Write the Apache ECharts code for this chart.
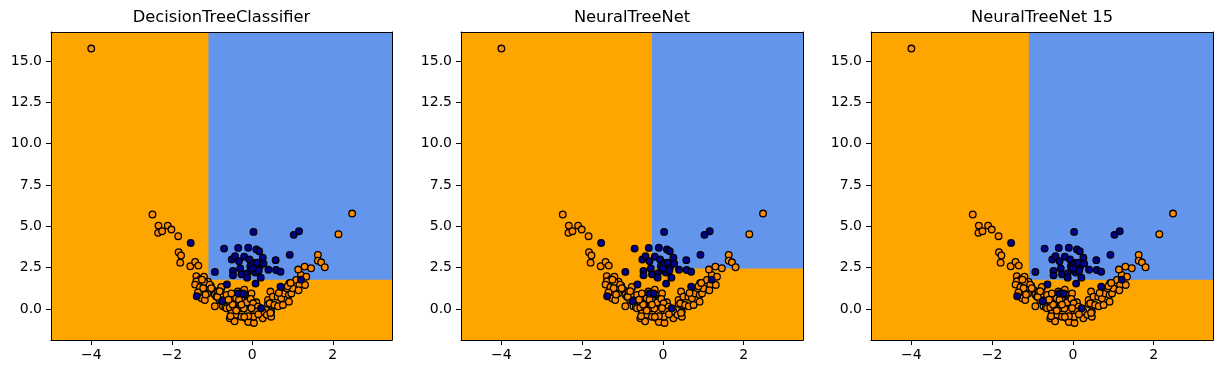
<!DOCTYPE html>
<html><head><meta charset="utf-8">
<script src="https://cdn.jsdelivr.net/npm/echarts@6/dist/echarts.min.js"></script>
<style>html,body{margin:0;padding:0;background:#fff}#c{width:1222px;height:374px}</style>
</head><body><div id="c"></div>
<script>
const titles = ['DecisionTreeClassifier', 'NeuralTreeNet', 'NeuralTreeNet 15'];
const xRange = [-5.0, 3.47];
const yRange = [-1.88, 16.75];
const xTicks = [-4, -2, 0, 2];
const yTicks = [0, 2.5, 5, 7.5, 10, 12.5, 15];
// lower-left corner of the blue (class 1) region in each panel
const regionX = [-1.09, -0.27, -1.09];
const regionY = [1.77, 2.45, 1.77];

const class0X = [-4.00,-2.48,-2.33,-2.34,-2.24,-2.10,-2.01,-1.84,-1.83,-1.77,-1.79,-1.54,-1.42,-1.34,-1.39,-1.28,-1.20,-1.10,-1.39,-1.42,-1.19,-1.30,-1.03,-1.22,-1.35,-1.11,-1.26,-1.18,-0.97,-0.93,-0.85,-0.77,-0.89,-0.81,-0.93,-0.69,-0.64,-0.60,-0.52,-0.46,-0.40,-0.36,-0.27,-0.19,-0.15,-0.07,-0.02,-0.20,-0.73,-0.67,-0.64,-0.56,-0.44,-0.31,-0.19,-0.11,-0.52,-0.40,-0.27,-0.56,-0.15,-0.07,-0.44,-0.10,0.04,-0.21,-0.49,-0.14,-0.04,0.10,0.02,0.14,0.10,-0.02,0.03,0.26,0.26,0.36,0.47,0.47,0.45,0.39,0.39,0.43,0.55,0.45,0.51,0.63,0.72,0.64,0.76,0.80,0.91,0.97,0.91,0.86,1.00,0.92,1.09,1.17,1.15,1.31,1.21,1.34,1.14,1.30,1.46,1.63,1.63,1.71,1.80,2.14,2.48,-0.59,-0.87,-0.77,-0.81,-0.33,-0.27,-1.16,-1.06,-1.02,0.66,0.88,0.95,0.15,-0.10,-0.54,-0.40,-0.20,-1.25];
const class0Y = [15.75,5.71,5.04,4.60,4.70,5.04,4.80,4.40,3.43,3.23,2.80,2.58,2.84,2.62,1.98,1.81,1.95,1.65,1.67,1.47,1.61,1.31,1.41,1.25,1.00,0.94,0.64,0.54,1.15,0.85,1.05,1.25,0.74,0.54,0.16,0.54,0.85,0.48,0.94,0.34,0.64,1.05,0.60,0.88,0.34,0.64,0.94,1.17,0.16,0.12,0.04,0.08,0.04,0.04,0.04,-0.16,-0.27,-0.36,-0.47,-0.57,-0.57,-0.47,-0.75,-0.79,-0.85,0.02,0.26,0.40,0.60,0.40,0.34,0.14,-0.16,0.04,-0.47,-0.57,-0.16,-0.36,-0.16,-0.47,-0.24,0.30,0.54,0.34,0.24,1.05,0.74,0.74,0.64,0.16,0.24,0.94,0.85,0.94,0.44,1.25,1.25,1.55,1.75,1.45,1.13,1.45,2.06,1.95,2.38,2.56,2.46,3.27,2.92,2.82,2.52,4.52,5.77,0.56,0.73,1.33,1.07,0.56,0.26,0.87,1.47,1.25,0.97,1.37,1.57,-0.32,-0.44,-0.44,-0.10,-0.48,1.77];

const class1X = [-1.53,-0.93,-0.70,-0.51,-0.43,-0.35,-0.33,-0.48,-0.48,-0.27,-0.20,-0.10,-0.07,-0.05,-0.13,-0.13,0.03,0.10,0.17,0.06,0.10,0.18,0.07,0.21,0.08,0.26,0.28,0.40,0.58,0.59,0.70,0.93,1.03,1.16,1.21,0.70,0.22,-0.63,-0.75,-1.38,-0.34,-0.23,-0.03,0.02,0.12,0.00,0.16,-0.30];
const class1Y = [3.99,2.24,3.65,2.99,3.19,3.69,2.89,2.29,2.03,2.09,3.16,3.70,2.99,2.58,2.15,1.89,4.66,3.59,3.49,2.78,2.49,2.55,2.20,1.89,1.53,3.10,2.74,2.37,2.95,2.35,2.25,3.27,4.48,4.70,1.77,1.35,0.04,1.48,0.47,0.77,0.93,0.94,2.35,2.70,2.80,2.45,2.33,2.45];

const grids = [
  {left: 51, top: 32, width: 341, height: 308},
  {left: 461, top: 32, width: 342, height: 308},
  {left: 871, top: 32, width: 342, height: 308}
];
const FONT = 'DejaVu Sans';
const fmtX = v => (v < 0 ? '\u2212' + Math.abs(v) : String(v));
const fmtY = v => (v < 0 ? '\u2212' + Math.abs(v).toFixed(1) : v.toFixed(1));
const pts = (xs, ys) => xs.map((x, i) => [x, ys[i]]);

const xAxes = [], yAxes = [], series = [], graphics = [];
grids.forEach((g, i) => {
  g.show = true; g.backgroundColor = '#FFA500'; g.borderWidth = 0;
  xAxes.push({
    gridIndex: i, type: 'value', min: xRange[0], max: xRange[1], position: 'bottom', z: 10,
    axisLine: {show: true, onZero: false, lineStyle: {color: '#000', width: 1}},
    axisTick: {show: true, customValues: xTicks, length: 5, lineStyle: {color: '#000', width: 1}},
    axisLabel: {show: true, customValues: xTicks, formatter: fmtX, margin: 8, color: '#000', fontSize: 14, fontFamily: FONT},
    splitLine: {show: false}
  });
  xAxes.push({
    gridIndex: i, type: 'value', min: xRange[0], max: xRange[1], position: 'top', z: 10,
    axisLine: {show: true, onZero: false, lineStyle: {color: '#000', width: 1}},
    axisTick: {show: false}, axisLabel: {show: false}, splitLine: {show: false}
  });
  yAxes.push({
    gridIndex: i, type: 'value', min: yRange[0], max: yRange[1], position: 'left', z: 10,
    axisLine: {show: true, onZero: false, lineStyle: {color: '#000', width: 1}},
    axisTick: {show: true, customValues: yTicks, length: 5, lineStyle: {color: '#000', width: 1}},
    axisLabel: {show: true, customValues: yTicks, formatter: fmtY, margin: 9, color: '#000', fontSize: 14, fontFamily: FONT},
    splitLine: {show: false}
  });
  yAxes.push({
    gridIndex: i, type: 'value', min: yRange[0], max: yRange[1], position: 'right', z: 10,
    axisLine: {show: true, onZero: false, lineStyle: {color: '#000', width: 1}},
    axisTick: {show: false}, axisLabel: {show: false}, splitLine: {show: false}
  });
  series.push({
    type: 'scatter', xAxisIndex: 2 * i, yAxisIndex: 2 * i, data: [], z: 1, silent: true,
    markArea: {silent: true, itemStyle: {color: '#6495ED', borderWidth: 0},
      data: [[{coord: [regionX[i], regionY[i]]}, {coord: [xRange[1], yRange[1]]}]]}
  });
  series.push({
    type: 'scatter', xAxisIndex: 2 * i, yAxisIndex: 2 * i, data: pts(class0X, class0Y), z: 3,
    symbolSize: 6.6, itemStyle: {color: '#FF8C00', borderColor: '#000', borderWidth: 1.3, opacity: 1}
  });
  series.push({
    type: 'scatter', xAxisIndex: 2 * i, yAxisIndex: 2 * i, data: pts(class1X, class1Y), z: 4,
    symbolSize: 6.6, itemStyle: {color: '#00008B', borderColor: '#000', borderWidth: 1.3, opacity: 1}
  });
  graphics.push({
    type: 'text', x: g.left + g.width / 2, y: 18,
    style: {text: titles[i], textAlign: 'center', textVerticalAlign: 'middle', fill: '#000', fontSize: 16.3, fontFamily: FONT}
  });
});

const chart = echarts.init(document.getElementById('c'), null, {renderer: 'canvas'});
chart.setOption({
  animation: false,
  backgroundColor: '#fff',
  grid: grids,
  xAxis: xAxes,
  yAxis: yAxes,
  series: series,
  graphic: graphics
});
</script></body></html>
